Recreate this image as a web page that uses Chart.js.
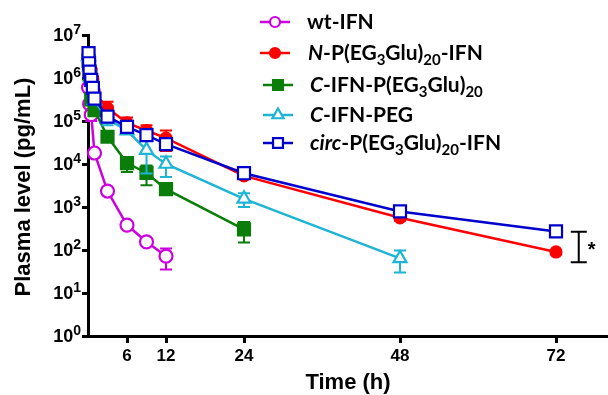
<!DOCTYPE html>
<html>
<head>
<meta charset="utf-8">
<script src="https://cdn.jsdelivr.net/npm/chart.js@4.4.0/dist/chart.umd.min.js"></script>
<style>
  html, body { margin: 0; padding: 0; background: #fff; }
  #wrap { width: 608px; height: 395px; position: relative; }
</style>
</head>
<body>
<div id="wrap"><canvas id="pk"></canvas></div>
<script>
// time points (h) and plasma levels (pg/mL), mean and SD per group
const tWt = [0.083, 0.25, 0.5, 1, 3, 6, 9, 12];
const wtIFN = [6e5, 2.5e5, 1.4e5, 1.8e4, 2.35e3, 380, 155, 72];
const wtSD = [0, 0, 4e4, 3e3, 300, 50, 25, 37];

const tN = [0.083, 0.25, 0.5, 0.75, 1, 3, 6, 9, 12, 24, 48, 72];
const nConj = [3.5e6, 2.3e6, 1.5e6, 9.5e5, 4.5e5, 2e5, 9e4, 6e4, 4e4, 5.3e3, 560, 90];
const nSD = [3e5, 2e5, 2e5, 1.5e5, 1e5, 8e4, 3e4, 2e4, 2e4, 800, 80, 10];

const tC = [0.083, 0.25, 0.5, 1, 3, 6, 9, 12, 24];
const cConj = [2.5e6, 1.2e6, 3.2e5, 1.8e5, 4.3e4, 1.05e4, 6.2e3, 2.6e3, 300];
const cSD = [0, 0, 8e4, 4e4, 5e3, 4e3, 3e3, 400, 150];

const tPeg = [0.083, 0.25, 0.5, 1, 3, 6, 9, 12, 24, 48];
const cPeg = [3.2e6, 1.8e6, 1e6, 3e5, 1.1e5, 6e4, 2.1e4, 1.0e4, 1.55e3, 64];
const pegSD = [0, 0, 0, 6e4, 3e4, 1e4, 1.5e4, 5e3, 550, 34];

const tCirc = [0.083, 0.167, 0.25, 0.5, 0.75, 1, 3, 6, 9, 12, 24, 48, 72];
const circConj = [3.8e6, 2.2e6, 1.4e6, 9e5, 5.9e5, 3.3e5, 1.26e5, 7.3e4, 4.7e4, 2.9e4, 6.1e3, 790, 270];
const circSD = [0, 0, 0, 0, 0, 0, 0, 0, 0, 0, 600, 60, 20];

const xTicks = [6, 12, 24, 48, 72];
const yDecades = [0, 1, 2, 3, 4, 5, 6, 7];

// significance bracket between N- and circ- at 72 h
const sigX = 75.5;
const sigRange = [52, 265];
const sigLabel = '*';

const legendLabels = [
    [{ t: 'wt-IFN' }],
    [{ t: 'N', i: true }, { t: '-P(EG' }, { t: '3', sub: true }, { t: 'Glu)' }, { t: '20', sub: true }, { t: '-IFN' }],
    [{ t: 'C', i: true }, { t: '-IFN-P(EG' }, { t: '3', sub: true }, { t: 'Glu)' }, { t: '20', sub: true }],
    [{ t: 'C', i: true }, { t: '-IFN-PEG' }],
    [{ t: 'circ', i: true }, { t: '-P(EG' }, { t: '3', sub: true }, { t: 'Glu)' }, { t: '20', sub: true }, { t: '-IFN' }]
];

const PURPLE = '#CC00DD', RED = '#FF0000', GREEN = '#0A7D0A', CYAN = '#1EB4D4', BLUE = '#0000CC';

function pts(ts, vs) {
    return ts.map((t, i) => ({ x: t, y: vs[i] }));
}

function series(label, ts, vs, sd, color, style, radius, filled, order) {
    return {
        label: label,
        data: pts(ts, vs),
        sd: sd,
        borderColor: color,
        borderWidth: 2.5,
        pointStyle: style,
        pointRadius: radius,
        pointHoverRadius: radius,
        pointBorderWidth: 2.2,
        pointBorderColor: color,
        pointBackgroundColor: filled ? color : '#fff',
        order: order,
        clip: false,
        tension: 0
    };
}

function drawMark(ctx, style, x, y, r, color, filled) {
    ctx.save();
    ctx.beginPath();
    if (style === 'circle') {
        ctx.arc(x, y, r, 0, Math.PI * 2);
    } else if (style === 'rect') {
        const s = r * Math.SQRT1_2;
        ctx.rect(x - s, y - s, 2 * s, 2 * s);
    } else {
        const a = Math.PI / 2;
        ctx.moveTo(x, y - r);
        ctx.lineTo(x + Math.cos(a / 3) * r, y + Math.sin(a / 3) * r);
        ctx.lineTo(x - Math.cos(a / 3) * r, y + Math.sin(a / 3) * r);
        ctx.closePath();
    }
    ctx.fillStyle = filled ? color : '#fff';
    ctx.fill();
    ctx.lineWidth = 2.2;
    ctx.strokeStyle = color;
    ctx.stroke();
    ctx.restore();
}

const errorBars = {
    id: 'errorBars',
    beforeDatasetDraw(chart, args) {
        const ds = chart.data.datasets[args.index];
        if (!ds.sd) return;
        const ctx = chart.ctx, ys = chart.scales.y;
        ctx.save();
        ctx.strokeStyle = ds.borderColor;
        ctx.lineWidth = 2;
        args.meta.data.forEach((p, i) => {
            const s = ds.sd[i];
            if (!s) return;
            const v = ds.data[i].y;
            const top = ys.getPixelForValue(v + s);
            const bot = ys.getPixelForValue(Math.max(v - s, 1.5));
            ctx.beginPath();
            ctx.moveTo(p.x, top); ctx.lineTo(p.x, bot);
            ctx.moveTo(p.x - 6, top); ctx.lineTo(p.x + 6, top);
            ctx.moveTo(p.x - 6, bot); ctx.lineTo(p.x + 6, bot);
            ctx.stroke();
        });
        ctx.restore();
    }
};

const decorations = {
    id: 'decorations',
    afterDraw(chart) {
        const ctx = chart.ctx, xs = chart.scales.x, ys = chart.scales.y;
        ctx.save();
        ctx.fillStyle = '#000';

        // y tick labels 10^n
        yDecades.forEach(e => {
            const y = ys.getPixelForValue(Math.pow(10, e));
            ctx.font = 'bold 14px "Liberation Sans"';
            const sw = ctx.measureText(String(e)).width;
            ctx.textAlign = 'left';
            ctx.textBaseline = 'middle';
            ctx.fillText(String(e), 81 - sw, y - 5);
            ctx.font = 'bold 18px "Liberation Sans"';
            ctx.textAlign = 'right';
            ctx.fillText('10', 81 - sw, y + 1);
        });

        // axis titles
        ctx.font = 'bold 22px "Liberation Sans"';
        ctx.textAlign = 'center';
        ctx.textBaseline = 'middle';
        ctx.fillText('Time (h)', 348, 383);
        ctx.save();
        ctx.translate(24, 187);
        ctx.rotate(-Math.PI / 2);
        ctx.fillText('Plasma level (pg/mL)', 0, 0);
        ctx.restore();

        // significance bracket
        const bx = xs.getPixelForValue(sigX);
        const b1 = ys.getPixelForValue(sigRange[0]);
        const b2 = ys.getPixelForValue(sigRange[1]);
        ctx.strokeStyle = '#000';
        ctx.lineWidth = 2;
        ctx.beginPath();
        ctx.moveTo(bx, b1); ctx.lineTo(bx, b2);
        ctx.moveTo(bx - 8, b1); ctx.lineTo(bx + 8, b1);
        ctx.moveTo(bx - 8, b2); ctx.lineTo(bx + 8, b2);
        ctx.stroke();
        ctx.font = 'bold 20px "Liberation Sans"';
        ctx.textAlign = 'left';
        ctx.fillText(sigLabel, bx + 9, (b1 + b2) / 2 + 3);

        // legend
        const rowsY = [22, 53, 85, 115, 143];
        const lineX = [[260, 290], [260, 290], [263, 293], [263, 293], [263, 293]];
        const textX = [307, 308, 310, 310, 310];
        chart.data.datasets.forEach((ds, k) => {
            const y = rowsY[k];
            ctx.strokeStyle = ds.borderColor;
            ctx.lineWidth = 2.5;
            ctx.beginPath();
            ctx.moveTo(lineX[k][0], y); ctx.lineTo(lineX[k][1], y);
            ctx.stroke();
            const r = ds.pointStyle === 'rect' ? 7 : (ds.pointStyle === 'triangle' ? 6.5 : 5);
            drawMark(ctx, ds.pointStyle, (lineX[k][0] + lineX[k][1]) / 2, y, r,
                ds.borderColor, ds.pointBackgroundColor !== '#fff');

            let x = textX[k];
            ctx.fillStyle = '#000';
            ctx.textAlign = 'left';
            ctx.textBaseline = 'alphabetic';
            legendLabels[k].forEach(seg => {
                const size = seg.sub ? 15 : 21;
                ctx.font = (seg.i ? 'italic ' : '') + 'bold ' + size + 'px Lato';
                ctx.fillText(seg.t, x, y + 7 + (seg.sub ? 5 : 0));
                x += ctx.measureText(seg.t).width;
            });
        });
        ctx.restore();
    }
};

new Chart(document.getElementById('pk'), {
    type: 'line',
    data: {
        datasets: [
            series('wt-IFN', tWt, wtIFN, wtSD, PURPLE, 'circle', 6.5, false, 4),
            series('N-P(EG3Glu)20-IFN', tN, nConj, nSD, RED, 'circle', 5.5, true, 3),
            series('C-IFN-P(EG3Glu)20', tC, cConj, cSD, GREEN, 'rect', 8.5, true, 2),
            series('C-IFN-PEG', tPeg, cPeg, pegSD, CYAN, 'triangle', 7.5, false, 1),
            series('circ-P(EG3Glu)20-IFN', tCirc, circConj, circSD, BLUE, 'rect', 8.5, false, 0)
        ]
    },
    options: {
        responsive: true,
        maintainAspectRatio: false,
        animation: false,
        layout: { autoPadding: false, padding: { top: 35, right: 0, left: 0, bottom: 0 } },
        plugins: { legend: { display: false }, tooltip: { enabled: false } },
        scales: {
            x: {
                type: 'linear',
                min: 0,
                max: 80,
                afterBuildTicks: s => { s.ticks = xTicks.map(v => ({ value: v })); },
                afterFit: s => { s.height = 59; s.paddingLeft = 0; s.paddingRight = 0; },
                grid: { drawOnChartArea: false, drawTicks: true, tickLength: 7, tickWidth: 3, tickColor: '#000' },
                border: { color: '#000', width: 3 },
                ticks: { color: '#000', padding: 3, font: { family: 'Liberation Sans', size: 17, weight: 'bold' } }
            },
            y: {
                type: 'logarithmic',
                min: 1,
                max: 1e7,
                afterBuildTicks: s => { s.ticks = yDecades.map(e => ({ value: Math.pow(10, e) })); },
                afterFit: s => { s.width = 88; s.paddingTop = 0; s.paddingBottom = 0; },
                grid: { drawOnChartArea: false, drawTicks: true, tickLength: 6, tickWidth: 3, tickColor: '#000' },
                border: { color: '#000', width: 3 },
                ticks: { display: false }
            }
        }
    },
    plugins: [errorBars, decorations]
});
</script>
</body>
</html>
